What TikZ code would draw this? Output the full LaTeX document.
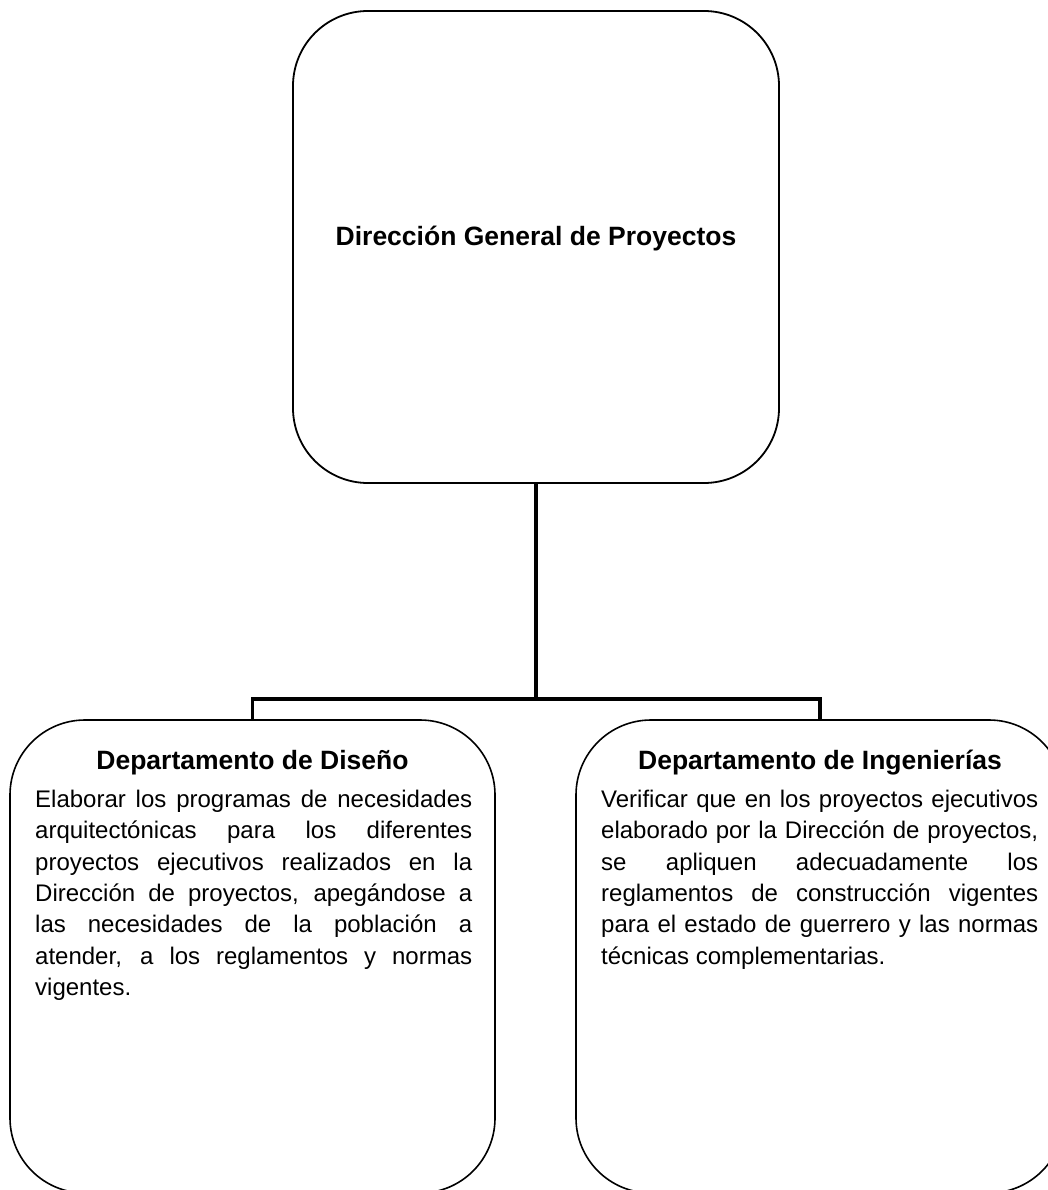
\documentclass[tikz,border=0pt]{standalone}
\usepackage{fontspec}
\setmainfont{Liberation Sans}
\tolerance=10000
\hbadness=10000
\hyphenpenalty=10000
\exhyphenpenalty=10000
\begin{document}
\begin{tikzpicture}[x=1pt,y=-1pt,
  box/.style={draw, line width=1.8pt, rounded corners=75pt, inner sep=0pt},
  conn/.style={line width=3.5pt},
  headtext/.style={font=\bfseries\fontsize{26.5}{30}\selectfont, anchor=base, inner sep=0pt},
  bodytext/.style={font=\fontsize{24}{31.3}\selectfont,
    text width=437pt, align=justify, anchor=north west, inner sep=0pt}]
  \useasboundingbox (0,0) rectangle (1048,1190);
  \clip (0,0) rectangle (1048,1190);

  % boxes
  \node[box, minimum width=486pt, minimum height=472pt] (top) at (536,247) {};
  \node[box, line width=1.6pt, minimum width=485pt, minimum height=473pt] (left) at (252.5,956.5) {};
  \node[box, line width=1.6pt, minimum width=488pt, minimum height=473pt] (right) at (820,956.5) {};

  % connectors
  \coordinate (bus) at (536,699);
  \draw[conn] (top.south) -- (bus);
  \draw[conn] (left.north) |- (bus) -| (right.north);

  % texts
  \node[headtext] (topT) at (536,245.5) {Dirección General de Proyectos};
  \node[headtext] (leftH) at (252.5,769) {Departamento de Diseño};
  \node[headtext] (rightH) at (820,769) {Departamento de Ingenierías};

  \node[bodytext] (leftB) at (35,790) {Elaborar los programas de necesidades\linebreak
    arquitectónicas para los diferentes\linebreak
    proyectos ejecutivos realizados en la\linebreak
    Dirección de proyectos, apegándose a\linebreak
    las necesidades de la población a\linebreak
    atender, a los reglamentos y normas\linebreak
    vigentes.};
  \node[bodytext] (rightB) at (601,790) {Verificar que en los proyectos ejecutivos\linebreak
    elaborado por la Dirección de proyectos,\linebreak
    se apliquen adecuadamente los\linebreak
    reglamentos de construcción vigentes\linebreak
    para el estado de guerrero y las normas\linebreak
    técnicas complementarias.};
\end{tikzpicture}
\end{document}
